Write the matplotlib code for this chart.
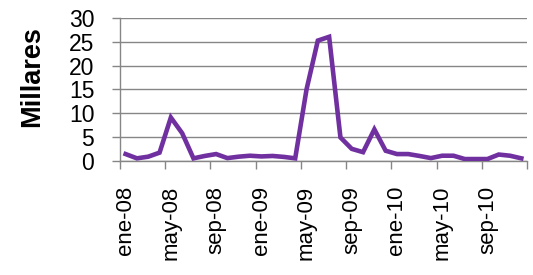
import matplotlib
matplotlib.use("Agg")
import matplotlib.pyplot as plt
import numpy as np

plt.rcParams['font.family'] = ['Liberation Sans', 'DejaVu Sans']

# meses ene-08 .. dic-10 (miles)
valores = [1.4, 0.5, 0.85, 1.7, 9.1, 5.8, 0.5, 1.0, 1.4, 0.55, 0.85, 1.05,
           0.9, 1.0, 0.8, 0.5, 15.0, 25.3, 26.1, 4.9, 2.5, 1.8, 6.6, 2.1,
           1.4, 1.4, 1.0, 0.55, 1.05, 1.05, 0.35, 0.35, 0.35, 1.3, 1.05, 0.5]
etiquetas = ['ene-08', 'may-08', 'sep-08', 'ene-09', 'may-09', 'sep-09',
             'ene-10', 'may-10', 'sep-10']
yticks = [0, 5, 10, 15, 20, 25, 30]

gris = '#868686'
morado = '#7030A0'

fig = plt.figure(figsize=(5.33, 2.75), dpi=100)
ax = fig.add_axes([0.2251, 0.4156, 0.9887 - 0.2251, 0.9335 - 0.4156])

x = np.arange(len(valores))
ax.plot(x, valores, color=morado, lw=3.3, solid_joinstyle='miter', zorder=3)

ax.set_xlim(-0.5, len(valores) - 0.5)
ax.set_ylim(0, 30)

ax.set_yticks(yticks)
ax.set_yticklabels([str(v) for v in yticks])
ax.yaxis.grid(True, color=gris, lw=1.0)
ax.set_axisbelow(True)

# ticks mayores en los limites de categoria, etiquetas en los centros
ax.set_xticks(np.arange(-0.5, len(valores), 4))
ax.set_xticklabels([])
ax.set_xticks(np.arange(0, len(valores), 4), minor=True)
ax.set_xticklabels(etiquetas, minor=True, rotation=90)
ax.tick_params(axis='x', which='major', length=5.5, width=1.0, color=gris, direction='out')
ax.tick_params(axis='x', which='minor', length=0, pad=18, labelsize=16)
ax.tick_params(axis='y', length=5.5, width=1.0, color=gris, direction='out',
               pad=13, labelsize=16.5)

for s in ['top', 'right']:
    ax.spines[s].set_visible(False)
for s in ['left', 'bottom']:
    ax.spines[s].set_color(gris)
    ax.spines[s].set_linewidth(1.0)

fig.text(32 / 533, 1 - 77 / 275, 'Millares', rotation=90, fontsize=19.5,
         fontweight='bold', ha='center', va='center')

fig.savefig('out.png', dpi=100)
